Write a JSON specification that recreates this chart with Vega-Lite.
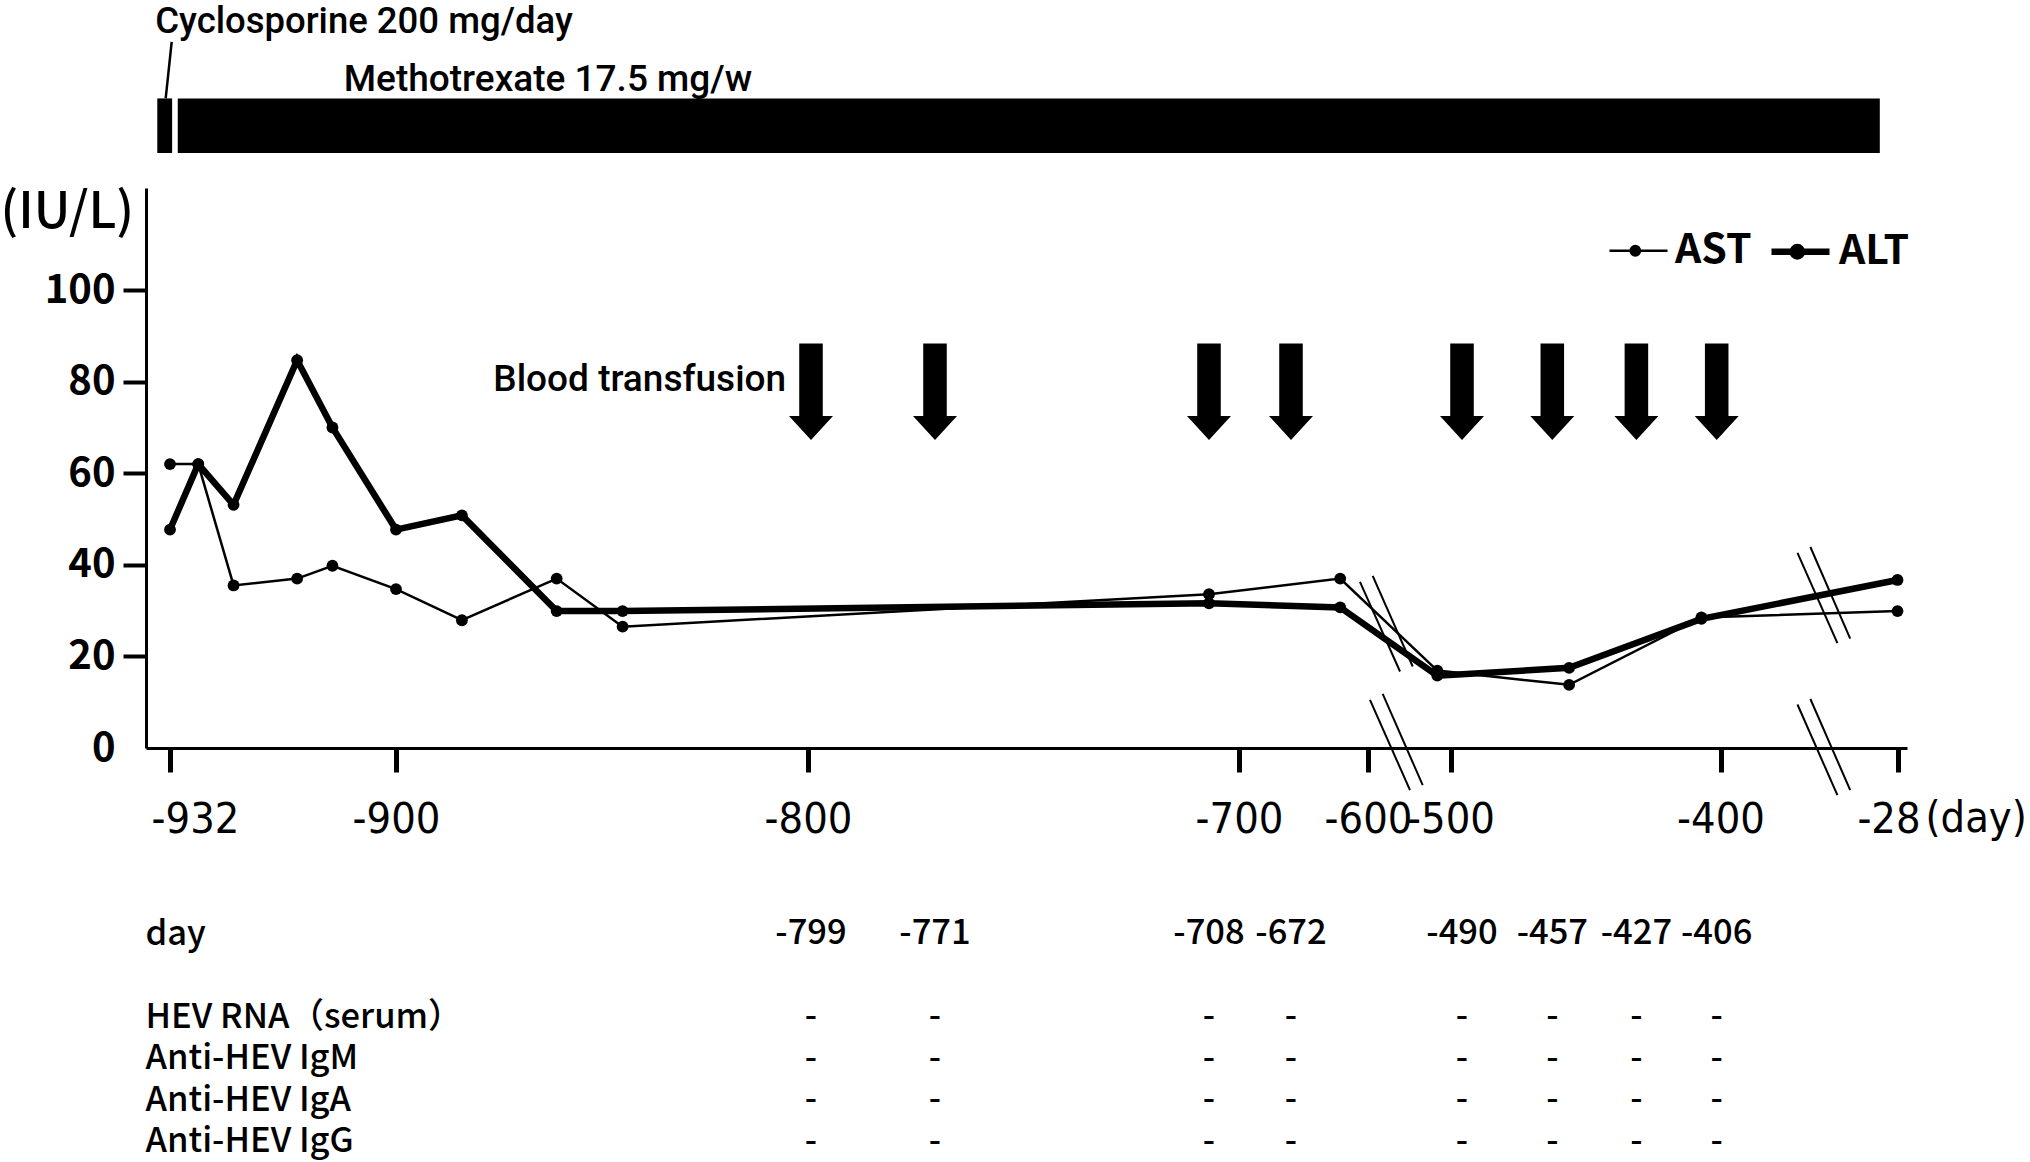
{
  "$schema": "https://vega.github.io/schema/vega-lite/v6.json",
  "padding": 0,
  "background": "white",
  "config": {
    "view": {"stroke": null},
    "font": "Noto Sans CJK JP",
    "text": {"color": "black"}
  },
  "datasets": {
    "labs": [
      {"day": -932, "test": "AST", "value": 62},
      {"day": -928, "test": "AST", "value": 62},
      {"day": -923, "test": "AST", "value": 35.5},
      {"day": -914, "test": "AST", "value": 37},
      {"day": -909, "test": "AST", "value": 39.8},
      {"day": -900, "test": "AST", "value": 34.7},
      {"day": -884, "test": "AST", "value": 27.9},
      {"day": -861, "test": "AST", "value": 37},
      {"day": -845, "test": "AST", "value": 26.5},
      {"day": -708, "test": "AST", "value": 33.6},
      {"day": -626, "test": "AST", "value": 37},
      {"day": -516, "test": "AST", "value": 16.9},
      {"day": -451, "test": "AST", "value": 13.8},
      {"day": -410, "test": "AST", "value": 28.5},
      {"day": -28, "test": "AST", "value": 29.9},
      {"day": -932, "test": "ALT", "value": 47.7},
      {"day": -928, "test": "ALT", "value": 62},
      {"day": -923, "test": "ALT", "value": 53.1},
      {"day": -914, "test": "ALT", "value": 84.7},
      {"day": -909, "test": "ALT", "value": 70},
      {"day": -900, "test": "ALT", "value": 47.7},
      {"day": -884, "test": "ALT", "value": 50.8},
      {"day": -861, "test": "ALT", "value": 29.9},
      {"day": -845, "test": "ALT", "value": 29.9},
      {"day": -708, "test": "ALT", "value": 31.6},
      {"day": -626, "test": "ALT", "value": 30.7},
      {"day": -516, "test": "ALT", "value": 15.8},
      {"day": -451, "test": "ALT", "value": 17.5},
      {"day": -410, "test": "ALT", "value": 28.2},
      {"day": -28, "test": "ALT", "value": 36.7}
    ],
    "transfusions": [
      {"day": -799}, {"day": -771}, {"day": -708}, {"day": -672},
      {"day": -490}, {"day": -457}, {"day": -427}, {"day": -406}
    ],
    "treatments": [
      {"drug": "Cyclosporine 200 mg/day", "start": -933.8, "end": -931.7},
      {"drug": "Methotrexate 17.5 mg/w", "start": -930.9, "end": -65.2}
    ],
    "axisBreaks": [
      {"d1": -607.5, "v1": 36.3, "d2": -561.2, "v2": 16.7},
      {"d1": -594.3, "v1": 37.6, "d2": -545.8, "v2": 17.8},
      {"d1": -597.6, "v1": 10.5, "d2": -549.1, "v2": -9.2},
      {"d1": -582.2, "v1": 11.8, "d2": -533.7, "v2": -8.1},
      {"d1": -238.2, "v1": 42.6, "d2": -154.3, "v2": 22.9},
      {"d1": -211.1, "v1": 43.9, "d2": -127.4, "v2": 23.9},
      {"d1": -238.2, "v1": 9.5, "d2": -154.3, "v2": -10.3},
      {"d1": -211.1, "v1": 10.7, "d2": -127.4, "v2": -9.2}
    ],
    "hevTable": [
      {"day": -799, "row": "day", "entry": "-799"},
      {"day": -771, "row": "day", "entry": "-771"},
      {"day": -708, "row": "day", "entry": "-708"},
      {"day": -672, "row": "day", "entry": "-672"},
      {"day": -490, "row": "day", "entry": "-490"},
      {"day": -457, "row": "day", "entry": "-457"},
      {"day": -427, "row": "day", "entry": "-427"},
      {"day": -406, "row": "day", "entry": "-406"},
      {"day": -799, "row": "HEV RNA（serum）", "entry": "-"},
      {"day": -771, "row": "HEV RNA（serum）", "entry": "-"},
      {"day": -708, "row": "HEV RNA（serum）", "entry": "-"},
      {"day": -672, "row": "HEV RNA（serum）", "entry": "-"},
      {"day": -490, "row": "HEV RNA（serum）", "entry": "-"},
      {"day": -457, "row": "HEV RNA（serum）", "entry": "-"},
      {"day": -427, "row": "HEV RNA（serum）", "entry": "-"},
      {"day": -406, "row": "HEV RNA（serum）", "entry": "-"},
      {"day": -799, "row": "Anti-HEV IgM", "entry": "-"},
      {"day": -771, "row": "Anti-HEV IgM", "entry": "-"},
      {"day": -708, "row": "Anti-HEV IgM", "entry": "-"},
      {"day": -672, "row": "Anti-HEV IgM", "entry": "-"},
      {"day": -490, "row": "Anti-HEV IgM", "entry": "-"},
      {"day": -457, "row": "Anti-HEV IgM", "entry": "-"},
      {"day": -427, "row": "Anti-HEV IgM", "entry": "-"},
      {"day": -406, "row": "Anti-HEV IgM", "entry": "-"},
      {"day": -799, "row": "Anti-HEV IgA", "entry": "-"},
      {"day": -771, "row": "Anti-HEV IgA", "entry": "-"},
      {"day": -708, "row": "Anti-HEV IgA", "entry": "-"},
      {"day": -672, "row": "Anti-HEV IgA", "entry": "-"},
      {"day": -490, "row": "Anti-HEV IgA", "entry": "-"},
      {"day": -457, "row": "Anti-HEV IgA", "entry": "-"},
      {"day": -427, "row": "Anti-HEV IgA", "entry": "-"},
      {"day": -406, "row": "Anti-HEV IgA", "entry": "-"},
      {"day": -799, "row": "Anti-HEV IgG", "entry": "-"},
      {"day": -771, "row": "Anti-HEV IgG", "entry": "-"},
      {"day": -708, "row": "Anti-HEV IgG", "entry": "-"},
      {"day": -672, "row": "Anti-HEV IgG", "entry": "-"},
      {"day": -490, "row": "Anti-HEV IgG", "entry": "-"},
      {"day": -457, "row": "Anti-HEV IgG", "entry": "-"},
      {"day": -427, "row": "Anti-HEV IgG", "entry": "-"},
      {"day": -406, "row": "Anti-HEV IgG", "entry": "-"}
    ]
  },
  "spacing": 35,
  "bounds": "flush",
  "resolve": {
    "scale": {"x": "independent", "strokeWidth": "independent"},
    "legend": {"strokeWidth": "independent"}
  },
  "vconcat": [
    {
      "width": 1761,
      "height": 153,
      "layer": [
        {
          "data": {"name": "treatments"},
          "mark": {"type": "rect", "color": "black"},
          "encoding": {
            "x": {
              "field": "start", "type": "quantitative", "axis": null,
              "scale": {
                "domain": [-935.4, -932, -900, -800, -799, -771, -708, -700, -672, -600, -500, -490, -457, -427, -406, -400, -28, -8],
                "range": [0, 24, 250, 662, 665, 789, 1063, 1093, 1145, 1222, 1304.5, 1316, 1406.3, 1490.4, 1570.7, 1574.5, 1751.5, 1761],
                "nice": false, "zero": false
              }
            },
            "x2": {"field": "end"},
            "y": {"datum": 0, "type": "quantitative", "axis": null, "scale": {"domain": [0, 3], "nice": false}},
            "y2": {"datum": 1.07}
          }
        },
        {
          "data": {"values": [{}]},
          "mark": {"type": "rule", "color": "black", "strokeWidth": 2.5},
          "encoding": {
            "x": {"datum": -931.76, "type": "quantitative"},
            "x2": {"datum": -932.61},
            "y": {"datum": 2.18, "type": "quantitative"},
            "y2": {"datum": 1.07}
          }
        },
        {
          "data": {"name": "treatments"},
          "transform": [{"filter": "datum.drug === 'Cyclosporine 200 mg/day'"}],
          "mark": {"type": "text", "font": "Roboto", "fontSize": 36.5, "fontWeight": 500, "align": "left", "baseline": "alphabetic"},
          "encoding": {
            "x": {"datum": -934.1, "type": "quantitative"},
            "y": {"datum": 2.35, "type": "quantitative"},
            "text": {"field": "drug"}
          }
        },
        {
          "data": {"name": "treatments"},
          "transform": [{"filter": "datum.drug === 'Methotrexate 17.5 mg/w'"}],
          "mark": {"type": "text", "font": "Roboto", "fontSize": 37, "fontWeight": 500, "align": "left", "baseline": "alphabetic"},
          "encoding": {
            "x": {"datum": -907.4, "type": "quantitative"},
            "y": {"datum": 1.216, "type": "quantitative"},
            "text": {"field": "drug"}
          }
        }
      ]
    },
    {
      "width": 1761,
      "height": 560,
      "layer": [
        {
          "data": {"name": "labs"},
          "mark": {"type": "line", "color": "black", "strokeJoin": "miter"},
          "encoding": {
            "x": {
              "field": "day", "type": "quantitative",
              "scale": {
                "domain": [-935.4, -932, -900, -800, -799, -771, -708, -700, -672, -600, -500, -490, -457, -427, -406, -400, -28, -8],
                "range": [0, 24, 250, 662, 665, 789, 1063, 1093, 1145, 1222, 1304.5, 1316, 1406.3, 1490.4, 1570.7, 1574.5, 1751.5, 1761],
                "nice": false, "zero": false
              },
              "axis": {
                "values": [-932, -900, -800, -700, -600, -500, -400, -28],
                "labelExpr": "'' + datum.value",
                "title": null,
                "grid": false,
                "labelFont": "'DejaVu Sans Condensed', 'Liberation Sans Narrow', 'Liberation Sans', sans-serif",
                "labelFontSize": 43,
                "labelColor": "black",
                "labelPadding": 26,
                "labelOffset": {
                  "condition": [
                    {"test": "datum.value === -932", "value": 25},
                    {"test": "datum.value === -28", "value": -9}
                  ],
                  "value": 0
                },
                "labelOverlap": false,
                "labelFlush": false,
                "labelBound": false,
                "tickSize": 24,
                "tickWidth": 5,
                "tickColor": "black",
                "domainColor": "black",
                "domainWidth": 3
              }
            },
            "y": {
              "field": "value", "type": "quantitative",
              "scale": {"domain": [0, 122.3], "nice": false, "zero": false},
              "axis": {
                "values": [0, 20, 40, 60, 80, 100],
                "grid": false,
                "title": "(IU/L)",
                "titleAngle": 0,
                "titleAlign": "left",
                "titleBaseline": "middle",
                "titleX": -146,
                "titleY": 24,
                "titleFont": "Noto Sans CJK JP",
                "titleFontSize": 50,
                "titleFontWeight": 500,
                "titleColor": "black",
                "labelFont": "Noto Sans CJK JP",
                "labelFontSize": 40,
                "labelFontWeight": "bold",
                "labelColor": "black",
                "labelPadding": 8,
                "tickSize": 23,
                "tickWidth": 4,
                "tickColor": {"condition": {"test": "datum.value === 0", "value": "transparent"}, "value": "black"},
                "domainColor": "black",
                "domainWidth": 3
              }
            },
            "strokeWidth": {
              "field": "test", "type": "nominal",
              "scale": {"domain": ["AST", "ALT"], "range": [2.5, 6.5]},
              "legend": {
                "title": null,
                "orient": "none",
                "legendX": 1462,
                "legendY": 31,
                "direction": "horizontal",
                "padding": 0,
                "symbolType": "M-1,0L1,0M-0.27,0A0.16,0.16,0,1,0,0.05,0A0.16,0.16,0,1,0,-0.27,0Z",
                "symbolSize": 3364,
                "symbolFillColor": "black",
                "symbolStrokeColor": "black",
                "labelFont": "Noto Sans CJK JP",
                "labelFontSize": 41,
                "labelFontWeight": "bold",
                "labelColor": "black",
                "labelOffset": 6,
                "columnPadding": 6,
                "labelLimit": 0
              }
            }
          }
        },
        {
          "data": {"name": "labs"},
          "mark": {"type": "point", "shape": "circle", "filled": true, "color": "black", "opacity": 1, "size": 140},
          "encoding": {
            "x": {"field": "day", "type": "quantitative"},
            "y": {"field": "value", "type": "quantitative"}
          }
        },
        {
          "data": {"name": "axisBreaks"},
          "mark": {"type": "rule", "color": "black", "strokeWidth": 2},
          "encoding": {
            "x": {"field": "d1", "type": "quantitative"},
            "x2": {"field": "d2"},
            "y": {"field": "v1", "type": "quantitative"},
            "y2": {"field": "v2"}
          }
        },
        {
          "data": {"name": "transfusions"},
          "mark": {
            "type": "point",
            "shape": "M-0.244,-1L0.244,-1L0.244,0.503L0.456,0.503L0,1L-0.456,0.503L-0.244,0.503Z",
            "filled": true, "color": "black", "opacity": 1, "size": 9312
          },
          "encoding": {
            "x": {"field": "day", "type": "quantitative"},
            "y": {"datum": 77.8, "type": "quantitative"}
          }
        },
        {
          "data": {"values": [{}]},
          "mark": {"type": "text", "text": "Blood transfusion", "font": "Roboto", "fontSize": 37, "fontWeight": 500, "align": "right", "baseline": "alphabetic"},
          "encoding": {
            "x": {"datum": -805.3, "type": "quantitative"},
            "y": {"datum": 77.9, "type": "quantitative"}
          }
        },
        {
          "data": {"values": [{}]},
          "mark": {"type": "text", "text": "(day)", "font": "'DejaVu Sans Condensed', 'Liberation Sans Narrow', 'Liberation Sans', sans-serif", "fontSize": 43, "align": "left", "baseline": "top", "dx": 28, "dy": 50},
          "encoding": {
            "x": {"datum": -28, "type": "quantitative"},
            "y": {"datum": 0, "type": "quantitative"}
          }
        }
      ]
    },
    {
      "width": 1761,
      "height": 379,
      "data": {"name": "hevTable"},
      "mark": {"type": "text", "font": "Noto Sans CJK JP", "fontSize": 34.5, "fontWeight": 500, "align": "center", "baseline": "middle"},
      "encoding": {
        "x": {
          "field": "day", "type": "quantitative", "axis": null,
          "scale": {
            "domain": [-935.4, -932, -900, -800, -799, -771, -708, -700, -672, -600, -500, -490, -457, -427, -406, -400, -28, -8],
            "range": [0, 24, 250, 662, 665, 789, 1063, 1093, 1145, 1222, 1304.5, 1316, 1406.3, 1490.4, 1570.7, 1574.5, 1751.5, 1761],
            "nice": false, "zero": false
          }
        },
        "y": {
          "field": "row", "type": "nominal",
          "scale": {
            "type": "point",
            "domain": ["day", " ", "HEV RNA（serum）", "Anti-HEV IgM", "Anti-HEV IgA", "Anti-HEV IgG"],
            "range": [151, 358.8],
            "padding": 0
          },
          "axis": {
            "title": null,
            "domain": false,
            "ticks": false,
            "tickSize": 0,
            "grid": false,
            "labelAlign": "left",
            "labelBaseline": "middle",
            "labelPadding": 1,
            "labelFont": "Noto Sans CJK JP",
            "labelFontSize": 34.5,
            "labelFontWeight": 500,
            "labelColor": "black",
            "labelLimit": 0
          }
        },
        "text": {"field": "entry"}
      }
    }
  ]
}
